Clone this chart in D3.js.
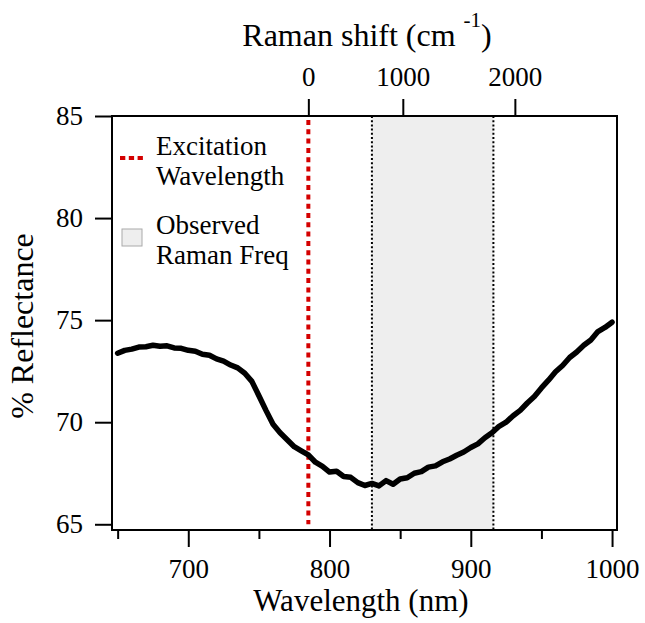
<!DOCTYPE html>
<html>
<head>
<meta charset="utf-8">
<script src="https://cdn.jsdelivr.net/npm/d3@7"></script>
<style>
  body { margin: 0; background: #fff; }
  svg text { font-family: "Liberation Serif", "Times New Roman", serif; fill: #000; }
</style>
</head>
<body>
<div id="drawing_region"></div>
<script>
// reflectance spectrum (nm, %)
const wavelength = [650, 655, 660, 665, 670, 675, 680, 685, 690, 695,
    700, 705, 710, 715, 720, 725, 730, 735, 740, 745,
    750, 755, 760, 765, 770, 775, 780, 785, 790, 795,
    800, 805, 810, 815, 820, 825, 830, 835, 840, 845,
    850, 855, 860, 865, 870, 875, 880, 885, 890, 895,
    900, 905, 910, 915, 920, 925, 930, 935, 940, 945,
    950, 955, 960, 965, 970, 975, 980, 985, 990, 995, 1000];
const reflectance = [73.38, 73.52, 73.58, 73.68, 73.70, 73.77, 73.72, 73.74, 73.64, 73.62,
    73.52, 73.48, 73.33, 73.28, 73.10, 72.99, 72.80, 72.66, 72.40, 72.00,
    71.30, 70.58, 69.90, 69.48, 69.14, 68.80, 68.60, 68.40, 68.04, 67.84,
    67.56, 67.60, 67.34, 67.30, 67.04, 66.90, 67.00, 66.88, 67.14, 66.96,
    67.22, 67.28, 67.50, 67.58, 67.80, 67.86, 68.06, 68.20, 68.38, 68.54,
    68.76, 68.94, 69.24, 69.48, 69.80, 70.00, 70.32, 70.58, 70.94, 71.26,
    71.68, 72.06, 72.47, 72.78, 73.17, 73.44, 73.77, 74.03, 74.44, 74.64, 74.90];

const excitation = 785;          // nm
const ramanBand = [830, 916];    // nm, observed Raman frequencies

const xTicks = [700, 800, 900, 1000];
const xMinorTicks = [650, 750, 850, 950];
const yTicks = [65, 70, 75, 80, 85];
const ramanTicks = [0, 1000, 2000];   // cm^-1

const legendItems = [
    { type: "line", lines: ["Excitation", "Wavelength"] },
    { type: "box", lines: ["Observed", "Raman Freq"] }
];

const serif = '"Liberation Serif", "Times New Roman", serif';

const width = 645, height = 623;
const margin = { top: 116, right: 28, bottom: 93, left: 112 };
const innerW = width - margin.left - margin.right;
const innerH = height - margin.top - margin.bottom;

const svg = d3.select("#drawing_region").append("svg")
    .attr("width", width)
    .attr("height", height);

const chart = svg.append("g")
    .attr("transform", `translate(${margin.left}, ${margin.top})`);

const x = d3.scaleLinear().domain([646, 1003.5]).range([0, innerW]);
const y = d3.scaleLinear().domain([64.72, 85]).range([innerH, 0]);

// wavenumber shift -> wavelength
const toWavelength = s => 1e7 / (1e7 / excitation - s);

// shaded band
chart.append("rect")
    .attr("x", x(ramanBand[0]))
    .attr("y", 0)
    .attr("width", x(ramanBand[1]) - x(ramanBand[0]))
    .attr("height", innerH)
    .attr("fill", "#eeeeee");

chart.selectAll(".band-edge").data(ramanBand).enter().append("line")
    .attr("class", "band-edge")
    .attr("x1", d => x(d)).attr("x2", d => x(d))
    .attr("y1", 0).attr("y2", innerH)
    .attr("stroke", "#000")
    .attr("stroke-width", 2)
    .attr("stroke-dasharray", "2,2.2");

// excitation line
chart.append("line")
    .attr("x1", x(excitation)).attr("x2", x(excitation))
    .attr("y1", 4).attr("y2", y(65))
    .attr("stroke", "#d40000")
    .attr("stroke-width", 4)
    .attr("stroke-dasharray", "5,4.3");

// spectrum
const data = wavelength.map((w, i) => ({ w: w, r: reflectance[i] }));
const line = d3.line().x(d => x(d.w)).y(d => y(d.r));
chart.append("path")
    .datum(data)
    .attr("d", line)
    .attr("fill", "none")
    .attr("stroke", "#000")
    .attr("stroke-width", 5.5)
    .attr("stroke-linejoin", "round")
    .attr("stroke-linecap", "round");

// frame
chart.append("rect")
    .attr("width", innerW).attr("height", innerH)
    .attr("fill", "none")
    .attr("stroke", "#000")
    .attr("stroke-width", 2);

// axes
const yAxis = d3.axisLeft(y).tickValues(yTicks).tickSize(17).tickPadding(12).tickSizeOuter(0);
const xAxis = d3.axisBottom(x).tickValues(xTicks).tickFormat(d3.format("d"))
    .tickSize(17).tickPadding(12).tickSizeOuter(0);
const xMinor = d3.axisBottom(x).tickValues(xMinorTicks).tickSize(9).tickFormat("").tickSizeOuter(0);
const topAxis = d3.axisTop(x)
    .tickValues(ramanTicks.map(toWavelength))
    .tickFormat((d, i) => ramanTicks[i])
    .tickSize(17).tickPadding(13).tickSizeOuter(0);

const yg = chart.append("g").call(yAxis);
const xg = chart.append("g").attr("transform", `translate(0, ${innerH})`).call(xAxis);
const xmg = chart.append("g").attr("transform", `translate(0, ${innerH})`).call(xMinor);
const tg = chart.append("g").call(topAxis);

[yg, xg, xmg, tg].forEach(g => {
    g.attr("font-family", null).attr("font-size", null);
    g.select(".domain").remove();
    g.selectAll(".tick line").attr("stroke", "#000").attr("stroke-width", 2);
    g.selectAll(".tick text").style("font-family", serif).style("font-size", "27px");
});

// axis titles
svg.append("text")
    .attr("x", 361).attr("y", 611)
    .attr("text-anchor", "middle")
    .style("font-size", "31px")
    .text("Wavelength (nm)");

svg.append("text")
    .attr("transform", "translate(33, 326) rotate(-90)")
    .attr("text-anchor", "middle")
    .style("font-size", "32px")
    .text("% Reflectance");

const topTitle = svg.append("text")
    .attr("x", 367).attr("y", 46)
    .attr("text-anchor", "middle")
    .style("font-size", "32px");
topTitle.append("tspan").text("Raman shift (cm ");
topTitle.append("tspan").attr("dy", -19).style("font-size", "21px").text("-1");
topTitle.append("tspan").attr("dy", 19).text(")");

// legend
const legend = svg.append("g");
legendItems.forEach((item, i) => {
    const g = legend.append("g").attr("transform", `translate(0, ${i * 79})`);
    if (item.type === "line") {
        g.append("line")
            .attr("x1", 120).attr("x2", 145)
            .attr("y1", 158).attr("y2", 158)
            .attr("stroke", "#d40000")
            .attr("stroke-width", 4)
            .attr("stroke-dasharray", "5.3,3.5");
    } else {
        g.append("rect")
            .attr("x", 122).attr("y", 150)
            .attr("width", 20).attr("height", 17)
            .attr("fill", "#eeeeee")
            .attr("stroke", "#aaaaaa")
            .attr("stroke-width", 1);
    }
    item.lines.forEach((t, j) => {
        g.append("text")
            .attr("x", 156).attr("y", 155 + j * 30)
            .style("font-size", "27px")
            .text(t);
    });
});
</script>
</body>
</html>
